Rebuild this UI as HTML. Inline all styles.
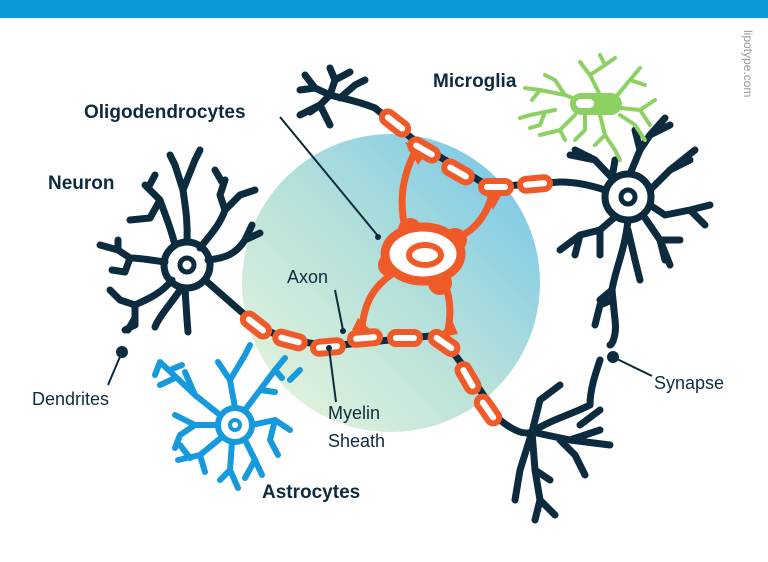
<!DOCTYPE html>
<html><head><meta charset="utf-8"><style>
html,body{margin:0;padding:0;background:#fff}
svg{display:block}
text{font-family:"Liberation Sans",sans-serif}
</style></head><body>
<svg width="768" height="562" viewBox="0 0 768 562" xmlns="http://www.w3.org/2000/svg">
<defs>
<linearGradient id="g" x1="0" y1="1" x2="1" y2="0">
<stop offset="0" stop-color="#eef7dc"/><stop offset="0.5" stop-color="#b5e0da"/><stop offset="1" stop-color="#6ec3ea"/>
</linearGradient>
</defs>
<rect x="0" y="0" width="768" height="18" fill="#0b9bd9"/>
<text x="0" y="0" transform="translate(744,30) rotate(90)" font-size="12" fill="#9a9a9a">lipotype.com</text>
<circle cx="391" cy="283" r="149" fill="url(#g)"/>

<g fill="none" stroke="#0d2b3e" stroke-width="7" stroke-linecap="round" stroke-linejoin="round">
<!-- left neuron -->
<circle cx="187" cy="265" r="23" fill="#fff"/>
<circle cx="187" cy="265" r="7" stroke-width="5"/>
<path d="M175 245 C170 225 165 215 160 200 M160 200 L145 185 M160 200 L150 218 L130 220 M148 188 L155 175"/>
<path d="M187 242 C188 220 185 205 183 190 L175 165 M183 190 L195 160 M175 165 L170 155 M195 160 L200 150"/>
<path d="M200 248 C210 235 220 225 225 210 L240 195 M225 210 L220 195 L225 180 M240 195 L255 190 M222 182 L215 170"/>
<path d="M208 260 C225 258 235 255 245 240 L252 225 M245 240 L260 233"/>
<path d="M165 262 C150 260 140 258 130 258 L118 250 L100 245 M130 258 L125 272 L112 270 M118 250 L118 240"/>
<path d="M172 280 C160 295 145 300 135 305 L120 300 M135 305 L135 325 L125 330 M120 300 L110 290"/>
<path d="M185 288 C186 305 187 320 188 332 M180 290 C170 305 160 315 155 327"/>
<path d="M205 280 L245 315"/>
<path d="M135 318 L128 330" />
<circle cx="122" cy="352" r="2.5" fill="#0d2b3e"/>
<!-- top-left dendrite tree -->
<path d="M375 108 C355 100 340 98 330 95 L315 88 L300 90 M330 95 L320 105 L310 112 M315 88 L305 75 M330 95 L335 80 L330 68 M335 80 L350 72 M320 105 L330 125 M320 105 L300 115 M340 98 L355 85 L365 80"/>
<!-- axons -->
<path d="M375 108 L420 145 L490 187 L560 182"/>
<path d="M245 315 C260 330 290 345 340 345 L440 335 L470 375 L500 420 C515 432 525 435 532 432"/>
<!-- right neuron -->
<circle cx="628" cy="197" r="23" fill="#fff"/>
<circle cx="628" cy="197" r="7" stroke-width="5"/>
<path d="M605 190 C590 185 575 182 560 182"/>
<path d="M612 178 L595 160 L575 150 M595 160 L570 155 M612 178 L615 160"/>
<path d="M630 174 L640 150 L650 135 L670 125 M640 150 L635 130 M650 135 L665 118"/>
<path d="M650 190 L670 170 L690 160 M670 170 L695 150"/>
<path d="M650 205 L665 215 L690 210 L710 205 M690 210 L705 225"/>
<path d="M645 218 L660 240 L665 260 M660 240 L670 265 M660 240 L680 240"/>
<path d="M615 217 L600 230 L580 235 L560 250 M580 235 L575 255 M600 230 L600 255"/>
<path d="M628 220 C625 250 615 270 612 290 L600 300 M612 290 L615 320 C617 335 612 345 610 345 M628 230 L635 260 L640 280 M612 300 L600 305 L595 325"/>
<circle cx="613" cy="357" r="2.5" fill="#0d2b3e"/>
<!-- lower right dendrite tree -->
<path d="M600 360 C595 375 590 390 590 405 C570 415 550 420 532 432 M532 432 L540 400 L560 385 M532 432 L570 440 L600 430 M570 440 L610 445 M532 432 L535 470 L550 480 M535 470 L540 500 L535 520 M532 432 L520 470 L515 500 M540 500 L555 515 M560 440 L575 455 L585 475 M580 425 L600 410"/>
</g>

<!-- astrocyte -->
<g fill="none" stroke="#1799dd" stroke-width="6" stroke-linecap="round" stroke-linejoin="round">
<circle cx="235" cy="425" r="17" fill="#fff"/>
<circle cx="235" cy="425" r="5" stroke-width="4"/>
<path d="M220 415 L195 395 L160 362 M195 395 L185 372 M175 378 L160 385 M160 362 L155 375"/>
<path d="M235 408 L230 380 L245 355 M230 380 L218 362 M245 355 L250 345"/>
<path d="M245 410 L260 390 L275 370 L285 358 M260 390 L275 392 M275 370 L282 378 M290 380 L300 370"/>
<path d="M252 425 L275 420 L290 430 M275 420 L270 440 L278 455"/>
<path d="M245 440 L255 460 L262 475 M255 460 L245 478"/>
<path d="M232 442 L230 470 L238 488 M230 470 L220 480"/>
<path d="M222 437 L200 455 L178 460 M200 455 L205 472 M190 458 L180 445"/>
<path d="M218 425 L195 425 L175 415 M195 425 L180 435 L175 448"/>
<path d="M182 365 L170 370"/>
</g>

<!-- microglia -->
<g fill="none" stroke="#8cd162" stroke-width="4" stroke-linecap="round" stroke-linejoin="round">
<path d="M585 103 L565 95 L540 90 L525 88 M565 95 L555 80 L545 75 M540 90 L532 100 M555 110 L530 115 L520 118 M545 112 L540 125 L530 128 M575 115 L560 130 L540 135 M560 130 L565 140 M600 95 L590 75 L580 62 M590 75 L605 65 L615 58 M605 65 L600 55 M615 98 L630 80 L640 68 M630 80 L645 85 M620 108 L640 110 L655 100 M640 110 L650 125 M600 115 L605 135 L615 150 M605 135 L595 145 M615 150 L620 160 M620 115 L635 125 L645 140 M585 115 L585 130 L575 140"/>
<rect x="570" y="93" width="52" height="22" rx="11" fill="#8cd162" stroke="none"/>
<rect x="575" y="98" width="20" height="11" rx="5.5" fill="#fff" stroke="#8cd162" stroke-width="2"/>
</g>

<!-- oligodendrocyte processes -->
<g fill="none" stroke="#f05a28" stroke-width="7" stroke-linecap="round">
<path d="M416 150 C400 180 400 205 405 228"/>
<path d="M492 195 C485 220 470 235 450 240"/>
<path d="M362 327 C365 300 375 285 395 272"/>
<path d="M448 330 C452 310 450 290 440 278"/>
</g>
<g fill="#f05a28">
<circle cx="410" cy="230" r="12"/><circle cx="455" cy="240" r="12"/>
<circle cx="390" cy="265" r="12"/><circle cx="440" cy="283" r="12"/>
<path d="M405 142 L428 150 L418 165 Z"/><path d="M482 186 L503 192 L493 210 Z"/>
<path d="M352 330 L374 333 L358 318 Z"/><path d="M437 338 L458 334 L452 320 Z"/>
</g>
<ellipse cx="423" cy="254" rx="38" ry="27" fill="#fff" stroke="#f05a28" stroke-width="9"/>
<ellipse cx="425" cy="255" rx="16" ry="10" fill="#fff" stroke="#f05a28" stroke-width="6"/>

<!-- myelin segments -->
<g fill="#fff" stroke="#f05a28" stroke-width="6">
<rect x="-15" y="-6" width="30" height="12" rx="6" transform="translate(395,123) rotate(38)"/>
<rect x="-15" y="-6" width="30" height="12" rx="6" transform="translate(424,150) rotate(30)"/>
<rect x="-15" y="-6" width="30" height="12" rx="6" transform="translate(458,172) rotate(30)"/>
<rect x="-15" y="-6" width="30" height="12" rx="6" transform="translate(496,187) rotate(0)"/>
<rect x="-15" y="-6" width="30" height="12" rx="6" transform="translate(535,184) rotate(-5)"/>
<rect x="-15" y="-6" width="30" height="12" rx="6" transform="translate(256,325) rotate(38)"/>
<rect x="-15" y="-6" width="30" height="12" rx="6" transform="translate(290,340) rotate(15)"/>
<rect x="-15" y="-6" width="30" height="12" rx="6" transform="translate(328,347) rotate(-5)"/>
<rect x="-15" y="-6" width="30" height="12" rx="6" transform="translate(365,338) rotate(-5)"/>
<rect x="-15" y="-6" width="30" height="12" rx="6" transform="translate(405,338) rotate(0)"/>
<rect x="-15" y="-6" width="30" height="12" rx="6" transform="translate(444,343) rotate(35)"/>
<rect x="-15" y="-6" width="30" height="12" rx="6" transform="translate(468,378) rotate(60)"/>
<rect x="-15" y="-6" width="30" height="12" rx="6" transform="translate(488,410) rotate(55)"/>
</g>

<!-- leader lines -->
<g stroke="#0d2b3e" stroke-width="2" fill="none">
<path d="M280 117 L378 236"/>
<path d="M335 290 L343 330"/>
<path d="M329 348 L336 402"/>
<path d="M122 352 L108 385"/>
<path d="M613 357 L652 376"/>
</g>
<circle cx="378" cy="237" r="3" fill="#0d2b3e"/>
<circle cx="343" cy="331" r="3" fill="#0d2b3e"/>
<circle cx="329" cy="348" r="3" fill="#0d2b3e"/>

<g fill="#0d2b3e" font-weight="bold" font-size="19">
<text x="84" y="118">Oligodendrocytes</text>
<text x="48" y="189">Neuron</text>
<text x="433" y="87">Microglia</text>
<text x="262" y="498">Astrocytes</text>
</g>
<g fill="#0d2b3e" font-size="18">
<text x="287" y="283">Axon</text>
<text x="32" y="405">Dendrites</text>
<text x="328" y="419">Myelin</text>
<text x="328" y="447">Sheath</text>
<text x="654" y="389">Synapse</text>
</g>
</svg>
</body></html>
